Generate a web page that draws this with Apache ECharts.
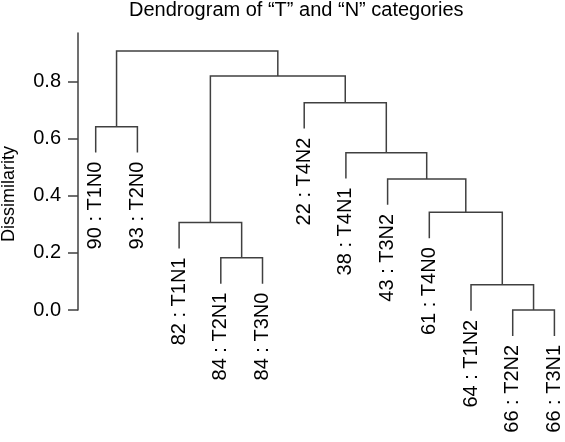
<!DOCTYPE html>
<html>
<head>
<meta charset="utf-8">
<script src="https://cdn.jsdelivr.net/npm/echarts@6/dist/echarts.min.js"></script>
<style>
html,body{margin:0;padding:0;background:#fff;}
#chart{width:565px;height:442px;}
</style>
</head>
<body>
<div id="chart"></div>
<script>
// ---- data ----
var leafLabels = ["90 : T1N0", "93 : T2N0", "82 : T1N1", "84 : T2N1", "84 : T3N0", "22 : T4N2",
                  "38 : T4N1", "43 : T3N2", "61 : T4N0", "64 : T1N2", "66 : T2N2", "66 : T3N1"];
// hclust-style merge table: negative = leaf index (1-based), positive = earlier merge (1-based)
var mergeLeft   = [-11, -10, -4, -3, -9, -8, -7, -1, -6, 4, 8];
var mergeRight  = [-12,   1, -5,  3,  2,  5,  6, -2,  7, 9, 10];
var mergeHeight = [0.0, 0.088, 0.183, 0.306, 0.342, 0.459, 0.551, 0.642, 0.726, 0.819, 0.907];
var hangFraction = 0.1;
var yTicks = [0, 0.2, 0.4, 0.6, 0.8];
var titleText = "Dendrogram of \u201CT\u201D and \u201CN\u201D categories";
var yName = "Dissimilarity";

// ---- build dendrogram geometry (in data units) ----
var hang = hangFraction * (Math.max.apply(null, mergeHeight) - Math.min.apply(null, mergeHeight));
var nodeX = [], leafEnds = [], segs = [];
function childInfo(id, parentH) {
  if (id < 0) {
    var lx = -id; // leaf position in plotting order
    var ly = parentH - hang;
    leafEnds.push([lx, ly, -id - 1]);
    return [lx, ly];
  }
  return [nodeX[id - 1], mergeHeight[id - 1]];
}
for (var i = 0; i < mergeHeight.length; i++) {
  var h = mergeHeight[i];
  var a = childInfo(mergeLeft[i], h);
  var b = childInfo(mergeRight[i], h);
  nodeX.push((a[0] + b[0]) / 2);
  segs.push([a[0], b[0], h, a[1], b[1]]);
}

var FONT = "'Liberation Sans', Arial, Helvetica, sans-serif";
var LINE = '#404040';
var chart = echarts.init(document.getElementById('chart'), null, {renderer: 'canvas'});
chart.setOption({
  animation: false,
  backgroundColor: '#fff',
  title: {
    text: titleText, left: 129, top: 0, padding: 0,
    textStyle: {fontFamily: FONT, fontSize: 20, fontWeight: 'normal', color: '#000'}
  },
  grid: {left: 78, right: 0, top: 33, bottom: 132, containLabel: false},
  xAxis: {type: 'value', min: 0.5755, max: 12.254, show: false},
  yAxis: {
    type: 'value', min: 0, max: 0.97,
    axisLine: {show: true, lineStyle: {color: LINE, width: 1.5}},
    axisTick: {show: true, length: 10, customValues: yTicks, lineStyle: {color: LINE, width: 1.5}},
    axisLabel: {customValues: yTicks, margin: 17, fontSize: 20, fontFamily: FONT, color: '#000',
                formatter: function (v) { return v.toFixed(1); }},
    splitLine: {show: false}
  },
  graphic: [{
    type: 'text', x: 9, y: 194, rotation: Math.PI / 2,
    style: {text: yName, align: 'center', verticalAlign: 'middle', fontSize: 18, fontFamily: FONT, fill: '#000'}
  }],
  series: [{
    type: 'custom', clip: false,
    data: segs,
    encode: {x: [0, 1], y: [2, 3, 4]},
    renderItem: function (params, api) {
      var xl = api.value(0), xr = api.value(1), hh = api.value(2), yl = api.value(3), yr = api.value(4);
      return {
        type: 'polyline',
        shape: {points: [api.coord([xl, yl]), api.coord([xl, hh]), api.coord([xr, hh]), api.coord([xr, yr])]},
        style: {stroke: LINE, lineWidth: 1.5, fill: null}
      };
    }
  }, {
    type: 'custom', clip: false,
    data: leafEnds,
    encode: {x: 0, y: 1},
    renderItem: function (params, api) {
      var p = api.coord([api.value(0), api.value(1)]);
      return {
        type: 'text', x: p[0], y: p[1] + 9, rotation: Math.PI / 2,
        style: {text: leafLabels[api.value(2)], align: 'right', verticalAlign: 'middle',
                fontSize: 20, fontFamily: FONT, fill: '#000'}
      };
    }
  }]
});
</script>
</body>
</html>
